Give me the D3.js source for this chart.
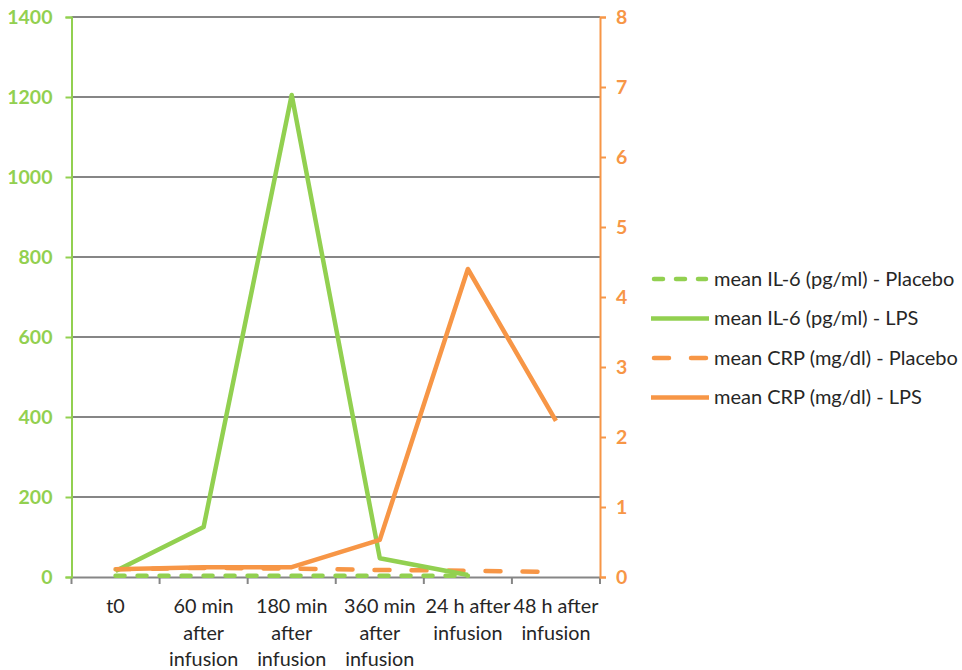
<!DOCTYPE html>
<html><head><meta charset="utf-8">
<script src="https://cdn.jsdelivr.net/npm/d3@7"></script>
<style>body{margin:0;background:#fff}svg{display:block}</style>
</head><body>
<svg id="c" width="962" height="670"></svg>
<script>
const categories = ["t0", "60 min after infusion", "180 min after infusion", "360 min after infusion", "24 h after infusion", "48 h after infusion"];
const il6Placebo = [3, 3, 3, 3, 3, null];
const il6LPS = [15, 125, 1205, 47, 5, null];
const crpPlacebo = [0.11, 0.13, 0.12, 0.10, 0.09, 0.07];
const crpLPS = [0.11, 0.14, 0.14, 0.53, 4.4, 2.23];
const leftTicks = [0, 200, 400, 600, 800, 1000, 1200, 1400];
const rightTicks = [0, 1, 2, 3, 4, 5, 6, 7, 8];
const legendLabels = ["mean IL-6 (pg/ml) - Placebo", "mean IL-6 (pg/ml) - LPS", "mean CRP (mg/dl) - Placebo", "mean CRP (mg/dl) - LPS"];

const GREEN = "#92D050", ORANGE = "#F79646", GRID = "#868686";
const FONT = "Lato, 'Open Sans', sans-serif";
const svg = d3.select("#c");
const L = 71.5, R = 600, T = 17, B = 577;
const x = d3.scaleBand().domain(categories).range([L, R]);
const yL = d3.scaleLinear().domain([0, 1400]).range([B, T]);
const yR = d3.scaleLinear().domain([0, 8]).range([B, T]);

// gridlines
svg.append("g").selectAll("line").data(leftTicks.filter(d => d > 0)).join("line")
  .attr("x1", L).attr("x2", R).attr("y1", d => yL(d)).attr("y2", d => yL(d))
  .attr("stroke", GRID).attr("stroke-width", 2);

// x axis
const xa = svg.append("g").attr("transform", `translate(0,${B})`)
  .call(d3.axisBottom(x).tickSize(0).tickFormat(""));
xa.select(".domain").attr("stroke", GRID).attr("stroke-width", 2);
const bounds = categories.map(c => x(c)).concat([R]);
svg.append("g").selectAll("line").data(bounds).join("line")
  .attr("x1", d => d).attr("x2", d => d).attr("y1", B).attr("y2", B + 7)
  .attr("stroke", GRID).attr("stroke-width", 2);

// x labels wrapped
const wraps = {
  "t0": ["t0"],
  "60 min after infusion": ["60 min", "after", "infusion"],
  "180 min after infusion": ["180 min", "after", "infusion"],
  "360 min after infusion": ["360 min", "after", "infusion"],
  "24 h after infusion": ["24 h after", "infusion"],
  "48 h after infusion": ["48 h after", "infusion"]
};
const xl = svg.append("g");
categories.forEach(c => {
  const t = xl.append("text").attr("x", x(c) + x.bandwidth() / 2).attr("y", 613)
    .attr("text-anchor", "middle").attr("font-family", FONT)
    .attr("font-size", 19.8).attr("fill", "#262626");
  wraps[c].forEach((s, i) => t.append("tspan").attr("x", x(c) + x.bandwidth() / 2).attr("dy", i ? 26.5 : 0).text(s));
});

// left axis
const la = svg.append("g").attr("transform", `translate(${L},0)`)
  .call(d3.axisLeft(yL).tickValues(leftTicks).tickFormat(d3.format("d")).tickSize(6).tickPadding(13));
la.select(".domain").attr("stroke", GREEN).attr("stroke-width", 2);
la.selectAll(".tick line").attr("stroke", GREEN).attr("stroke-width", 2);
la.selectAll(".tick text").attr("fill", GREEN).attr("font-weight", "bold")
  .attr("font-family", FONT).attr("font-size", 19.5);

// right axis
const ra = svg.append("g").attr("transform", `translate(${R},0)`)
  .call(d3.axisRight(yR).tickValues(rightTicks).tickFormat(d3.format("d")).tickSize(6).tickPadding(10));
ra.select(".domain").attr("stroke", ORANGE).attr("stroke-width", 2);
ra.selectAll(".tick line").attr("stroke", ORANGE).attr("stroke-width", 2);
ra.selectAll(".tick text").attr("fill", ORANGE).attr("font-weight", "bold")
  .attr("font-family", FONT).attr("font-size", 19.5);

// series
const cx = c => x(c) + x.bandwidth() / 2;
function drawLine(vals, ys, color, dash) {
  const data = categories.map((c, i) => [c, vals[i]]).filter(d => d[1] != null);
  svg.append("path").datum(data)
    .attr("d", d3.line().x(d => cx(d[0])).y(d => ys(d[1])))
    .attr("fill", "none").attr("stroke", color).attr("stroke-width", 4.5)
    .attr("stroke-linejoin", "round")
    .attr("stroke-linecap", dash ? "round" : "butt")
    .attr("stroke-dasharray", dash || null);
}
drawLine(crpPlacebo, yR, ORANGE, "15,22");
drawLine(il6Placebo, yL, GREEN, "9,13");
drawLine(il6LPS, yL, GREEN, null);
drawLine(crpLPS, yR, ORANGE, null);

// legend
const legend = [
  {label: legendLabels[0], color: GREEN, dash: "9,13", cap: "round"},
  {label: legendLabels[1], color: GREEN, dash: null, cap: "butt"},
  {label: legendLabels[2], color: ORANGE, dash: "15,22", cap: "round"},
  {label: legendLabels[3], color: ORANGE, dash: null, cap: "butt"}
];
const lg = svg.append("g");
legend.forEach((d, i) => {
  const yy = 279 + i * 39.5;
  lg.append("line").attr("x1", d.dash ? 654 : 651).attr("x2", d.dash ? 706 : 709)
    .attr("y1", yy).attr("y2", yy).attr("stroke", d.color).attr("stroke-width", 4.5)
    .attr("stroke-linecap", d.cap).attr("stroke-dasharray", d.dash);
  lg.append("text").attr("x", 714).attr("y", yy + 6.5).text(d.label)
    .attr("font-family", FONT).attr("font-size", 20).attr("fill", "#262626");
});
</script>
</body></html>
